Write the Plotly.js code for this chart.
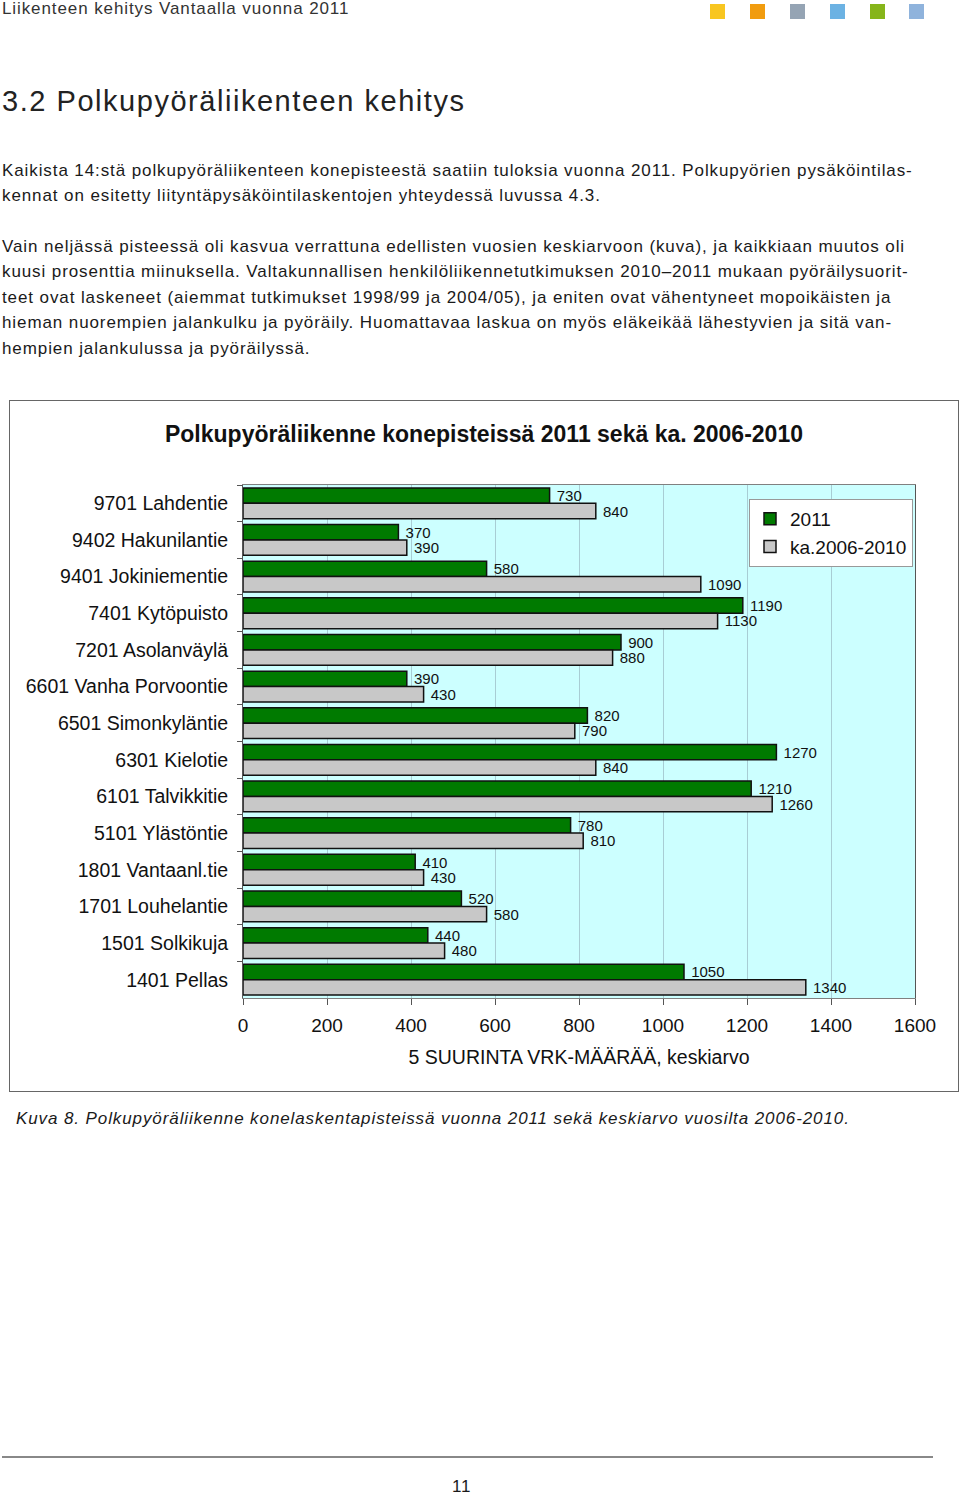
<!DOCTYPE html>
<html>
<head>
<meta charset="utf-8">
<script src="https://cdn.plot.ly/plotly-3.0.1.min.js"></script>
<style>
  html, body { margin:0; padding:0; background:#fff; }
  body { width:960px; height:1494px; position:relative; overflow:hidden;
         font-family:"Liberation Sans", Arial, Helvetica, sans-serif; color:#1a1a1a; }
  .abs { position:absolute; white-space:nowrap; letter-spacing:0.053em; }
  #hdr { left:2px; top:-2px; font-size:17px; color:#333; line-height:22px; }
  .sq { position:absolute; top:4px; width:15px; height:15px; }
  #h2 { left:2px; top:82px; font-size:29px; line-height:38px; color:#222; }
  .p { left:2px; font-size:17px; line-height:25.4px; }
  #box { position:absolute; left:9px; top:400px; width:950px; height:692px;
         border:1px solid #666; box-sizing:border-box; }
  #chart { position:absolute; left:0; top:0; width:948px; height:690px; }
  #cap { left:16px; top:1107px; font-size:17px; font-style:italic; line-height:24px; }
  #rule { position:absolute; left:2px; top:1456px; width:931px; height:0; border-top:2px solid #888; }
  #pg { left:452px; top:1476px; font-size:17px; line-height:22px; }
</style>
</head>
<body>
<div class="abs" id="hdr">Liikenteen kehitys Vantaalla vuonna 2011</div>
<div class="sq" style="left:710px;background:#f8c620"></div>
<div class="sq" style="left:750px;background:#f19c0f"></div>
<div class="sq" style="left:790px;background:#95a4b4"></div>
<div class="sq" style="left:830px;background:#6cb2e3"></div>
<div class="sq" style="left:870px;background:#86b51a"></div>
<div class="sq" style="left:909px;background:#8fb3dc"></div>

<div class="abs" id="h2">3.2 Polkupyöräliikenteen kehitys</div>

<div class="abs p" style="top:158px">Kaikista 14:stä polkupyöräliikenteen konepisteestä saatiin tuloksia vuonna 2011. Polkupyörien pysäköintilas-<br>kennat on esitetty liityntäpysäköintilaskentojen yhteydessä luvussa 4.3.</div>

<div class="abs p" style="top:234px">Vain neljässä pisteessä oli kasvua verrattuna edellisten vuosien keskiarvoon (kuva), ja kaikkiaan muutos oli<br>kuusi prosenttia miinuksella. Valtakunnallisen henkilöliikennetutkimuksen 2010–2011 mukaan pyöräilysuorit-<br>teet ovat laskeneet (aiemmat tutkimukset 1998/99 ja 2004/05), ja eniten ovat vähentyneet mopoikäisten ja<br>hieman nuorempien jalankulku ja pyöräily. Huomattavaa laskua on myös eläkeikää lähestyvien ja sitä van-<br>hempien jalankulussa ja pyöräilyssä.</div>

<div id="box"><div id="chart"></div></div>

<div class="abs" id="cap">Kuva 8. Polkupyöräliikenne konelaskentapisteissä vuonna 2011 sekä keskiarvo vuosilta 2006-2010.</div>
<div id="rule"></div>
<div class="abs" id="pg">11</div>

<script>
const categories = [
  "9701 Lahdentie", "9402 Hakunilantie", "9401 Jokiniementie", "7401 Kytöpuisto",
  "7201 Asolanväylä", "6601 Vanha Porvoontie", "6501 Simonkyläntie", "6301 Kielotie",
  "6101 Talvikkitie", "5101 Ylästöntie", "1801 Vantaanl.tie", "1701 Louhelantie",
  "1501 Solkikuja", "1401 Pellas"
];
const values2011 = [730, 370, 580, 1190, 900, 390, 820, 1270, 1210, 780, 410, 520, 440, 1050];
const valuesAvg = [840, 390, 1090, 1130, 880, 430, 790, 840, 1260, 810, 430, 580, 480, 1340];
const seriesNames = ["2011", "ka.2006-2010"];
const xTicks = [0, 200, 400, 600, 800, 1000, 1200, 1400, 1600];

const FONT = '"Liberation Sans", Arial, sans-serif';
const lbl = v => '\u00a0' + v;

const traces = [
  { type:'bar', orientation:'h', name:seriesNames[0], y:categories, x:values2011,
    marker:{color:'#007a00', line:{color:'#111', width:1.5}},
    text:values2011.map(lbl), textposition:'outside', constraintext:'none', cliponaxis:false,
    textfont:{family:FONT, size:15, color:'#111'} },
  { type:'bar', orientation:'h', name:seriesNames[1], y:categories, x:valuesAvg,
    marker:{color:'#c8c8c8', line:{color:'#111', width:1.5}},
    text:valuesAvg.map(lbl), textposition:'outside', constraintext:'none', cliponaxis:false,
    textfont:{family:FONT, size:15, color:'#111'} }
];

const layout = {
  width:948, height:690,
  margin:{l:233, r:43, t:84, b:93, pad:0},
  paper_bgcolor:'#ffffff', plot_bgcolor:'#ccffff',
  font:{family:FONT, size:19, color:'#111'},
  barmode:'group', bargap:0.16, bargroupgap:0,
  title:{text:'<b>Polkupyöräliikenne konepisteissä 2011 sekä ka. 2006-2010</b>',
         font:{family:FONT, size:23, color:'#111'},
         x:0.5, xref:'container', xanchor:'center', y:1-33/690, yref:'container', yanchor:'middle'},
  xaxis:{range:[0,1600], tickvals:xTicks, ticktext:xTicks.map(String),
         showgrid:true, gridcolor:'#a8cdd4', gridwidth:1, zeroline:false,
         showline:true, linecolor:'#808080', linewidth:1, mirror:true,
         ticks:'outside', ticklen:6, tickcolor:'#555', ticklabelstandoff:4,
         tickfont:{family:FONT, size:19, color:'#111'},
         title:{text:'5 SUURINTA VRK-MÄÄRÄÄ, keskiarvo', font:{family:FONT, size:19.5, color:'#111'}, standoff:15},
         fixedrange:true},
  yaxis:{type:'category', categoryorder:'array', categoryarray:categories, autorange:'reversed',
         showline:true, linecolor:'#555', linewidth:1, mirror:true,
         ticks:'outside', ticklen:5, tickcolor:'#555', tickson:'boundaries', ticklabelstandoff:10,
         showgrid:false, tickfont:{family:FONT, size:19.5, color:'#111'}, fixedrange:true},
  showlegend:true,
  legend:{x:(739-233)/672, xref:'paper', xanchor:'left', y:1-(98-84)/513, yanchor:'top',
          bgcolor:'#ffffff', bordercolor:'#999', borderwidth:1,
          font:{family:FONT, size:19, color:'#111'}, traceorder:'normal', tracegroupgap:0}
};

Plotly.newPlot('chart', traces, layout, {staticPlot:true, displayModeBar:false});
</script>
</body>
</html>
